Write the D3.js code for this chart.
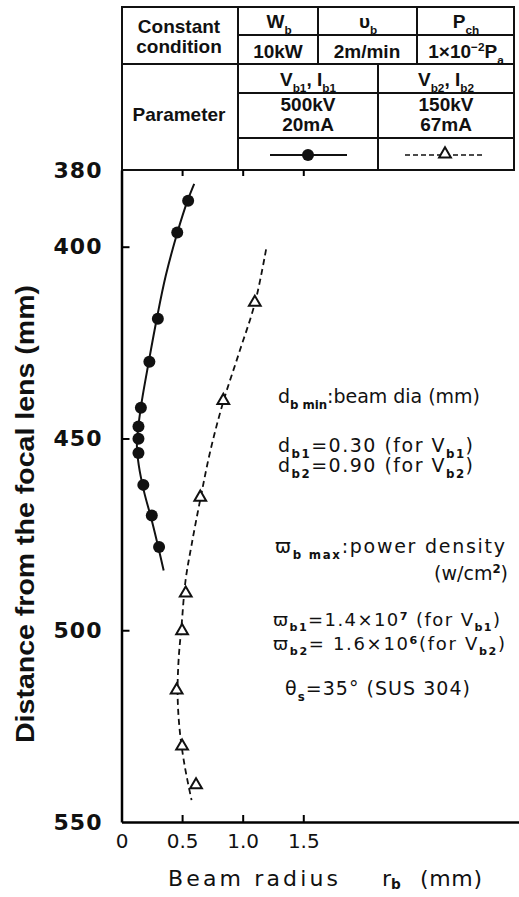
<!DOCTYPE html>
<html>
<head>
<meta charset="utf-8">
<script src="https://cdn.jsdelivr.net/npm/d3@7"></script>
<style>
  body { margin: 0; background: #fff; }
  svg text { fill: #111; }
</style>
</head>
<body>
<div id="chart"></div>
<script>
// measured points (beam radius mm, distance mm)
var r1 = [0.55, 0.46, 0.30, 0.23, 0.16, 0.14, 0.14, 0.14, 0.18, 0.25, 0.31];
var d1 = [388.0, 396.3, 418.8, 430.0, 442.0, 446.9, 450.1, 453.8, 462.1, 470.1, 478.3];
var r2 = [1.10, 0.84, 0.65, 0.53, 0.50, 0.455, 0.50, 0.615];
var d2 = [414.8, 440.4, 465.6, 490.6, 500.4, 515.9, 530.5, 540.6];
// hand drawn fitting curves
var fit1R = [0.60, 0.545, 0.463, 0.365, 0.291, 0.225, 0.168, 0.135, 0.127, 0.143, 0.184, 0.25, 0.307, 0.348];
var fit1D = [383.6, 388.0, 396.1, 407.6, 418.8, 430.0, 440.2, 448.0, 451.9, 457.1, 463.6, 471.4, 478.8, 484.4];
var fit2R = [1.193, 1.102, 0.971, 0.84, 0.734, 0.652, 0.578, 0.529, 0.496, 0.471, 0.463, 0.48, 0.52, 0.578];
var fit2D = [400.7, 414.6, 427.6, 440.4, 453.1, 465.6, 477.8, 486.9, 498.6, 507.8, 516.9, 526.0, 535.1, 544.3];
var xTicks = [0, 0.5, 1.0, 1.5];
var xTickLabels = ["0", "0.5", "1.0", "1.5"];
var yTicks = [380, 400, 450, 500, 550];

var W = 519, H = 897;
var svg = d3.select("#chart").append("svg").attr("width", W).attr("height", H);

var x = d3.scaleLinear().domain([0, 3.28]).range([121.5, 519]);
var y = d3.scaleLinear().domain([380, 550]).range([170, 822]);
var font = "'DejaVu Sans', sans-serif";

// text with _{sub} and ^{sup} markup
function rich(sel, str, size, subShift) {
    var re = /([_^])\{([^}]*)\}|([^_^]+)/g, m, shift = 0;
    while ((m = re.exec(str)) !== null) {
        if (m[3]) {
            sel.append("tspan").attr("dy", -shift).text(m[3]);
            shift = 0;
        } else {
            var dy = m[1] == "_" ? size * (subShift || 0.3) : -size * 0.35;
            sel.append("tspan").attr("dy", dy - shift)
                .style("font-size", (size * 0.62) + "px").style("font-weight", "bold").text(m[2]);
            shift = dy;
        }
    }
    return sel;
}
function label(str, px, py, size, anchor, subShift) {
    var t = svg.append("text").attr("x", px).attr("y", py)
        .style("font-family", font).style("font-size", size + "px")
        .attr("text-anchor", anchor || "start");
    return rich(t, str, size, subShift);
}

// ---- table ----
var tb = svg.append("g").attr("stroke", "#111").attr("stroke-width", 2).attr("fill", "none");
tb.append("rect").attr("x", 122).attr("y", 7).attr("width", 392).attr("height", 163);
[[238, 7, 238, 170], [318, 7, 318, 64], [417, 7, 417, 64], [378, 64, 378, 170],
 [238, 35, 514, 35], [122, 64, 514, 64], [238, 93, 514, 93], [238, 138, 514, 138]]
.forEach(function(l) {
    tb.append("line").attr("x1", l[0]).attr("y1", l[1]).attr("x2", l[2]).attr("y2", l[3]);
});

var tf = "'Liberation Sans', Arial, sans-serif";
function cell(str, px, py) {
    var t = svg.append("text").attr("x", px).attr("y", py).attr("text-anchor", "middle")
        .style("font-family", tf).style("font-size", "19px").style("font-weight", "bold");
    return rich(t, str, 19);
}
cell("Constant", 179, 33);
cell("condition", 179, 53);
cell("Parameter", 179, 121);
cell("W_{b}", 279, 28);
cell("υ_{b}", 368, 28);
cell("P_{ch}", 466, 28);
cell("10kW", 278, 58);
cell("2m/min", 367, 58);
cell("1×10^{−2}P_{a}", 466, 58);
cell("V_{b1}, I_{b1}", 308, 86);
cell("500kV", 308, 111);
cell("20mA", 308, 131);
cell("V_{b2}, I_{b2}", 446, 86);
cell("150kV", 446, 111);
cell("67mA", 446, 131);

// legend samples
svg.append("line").attr("x1", 270).attr("x2", 347).attr("y1", 155).attr("y2", 155)
    .attr("stroke", "#111").attr("stroke-width", 2);
svg.append("circle").attr("cx", 308).attr("cy", 155).attr("r", 6).attr("fill", "#111");
svg.append("line").attr("x1", 405).attr("x2", 485).attr("y1", 155).attr("y2", 155)
    .attr("stroke", "#111").attr("stroke-width", 1.6).attr("stroke-dasharray", "5,3");
var tri = d3.symbol().type(d3.symbolTriangle).size(60);
svg.append("path").attr("d", tri()).attr("transform", "translate(445,154)")
    .attr("fill", "#fff").attr("stroke", "#111").attr("stroke-width", 2);

// ---- axes ----
var xAxis = d3.axisBottom(x).tickValues(xTicks).tickFormat(function(d, i) { return xTickLabels[i]; })
    .tickSizeInner(-7).tickSizeOuter(0).tickPadding(12);
var gx = svg.append("g").attr("transform", "translate(0," + y(550) + ")").call(xAxis);
gx.select(".domain").attr("stroke-width", 2.5);
gx.selectAll(".tick line").attr("stroke-width", 2);
gx.selectAll(".tick text").style("font-family", font).style("font-size", "20px").attr("fill", "#111");

var xTop = d3.axisTop(x).tickValues(xTicks.slice(1)).tickFormat("").tickSizeInner(-6).tickSizeOuter(0);
var gt = svg.append("g").attr("transform", "translate(0," + y(380) + ")").call(xTop);
gt.select(".domain").remove();
gt.selectAll(".tick line").attr("stroke-width", 2);

var yAxis = d3.axisLeft(y).tickValues(yTicks).tickSizeInner(-8).tickSizeOuter(0).tickPadding(20);
var gy = svg.append("g").attr("transform", "translate(" + x(0) + ",0)").call(yAxis);
gy.select(".domain").attr("stroke-width", 2.5);
gy.selectAll(".tick line").attr("stroke-width", 2)
    .filter(function(d) { return d == 380 || d == 550; }).remove();
gy.selectAll(".tick text").style("font-family", font).style("font-size", "22px")
    .style("font-weight", "bold")
    .attr("fill", "#111").attr("textLength", 48).attr("lengthAdjust", "spacing");

// axis titles
label("Beam radius", 168, 886, 22).attr("textLength", 170).attr("lengthAdjust", "spacing");
label("r_{b}", 382, 886, 22, "start", 0.15);
label("(mm)", 420, 886, 22).attr("textLength", 62).attr("lengthAdjust", "spacing");

svg.append("text").attr("transform", "translate(34,514) rotate(-90)")
    .attr("text-anchor", "middle")
    .style("font-family", tf).style("font-size", "26px").style("font-weight", "bold")
    .attr("textLength", 458).attr("lengthAdjust", "spacingAndGlyphs")
    .text("Distance from the focal lens   (mm)");

// ---- curves ----
var line = d3.line().x(function(d) { return x(d[0]); }).y(function(d) { return y(d[1]); })
    .curve(d3.curveCatmullRom);
svg.append("path").datum(d3.zip(fit1R, fit1D)).attr("d", line)
    .attr("fill", "none").attr("stroke", "#111").attr("stroke-width", 2);
svg.append("path").datum(d3.zip(fit2R, fit2D)).attr("d", line)
    .attr("fill", "none").attr("stroke", "#111").attr("stroke-width", 1.8)
    .attr("stroke-dasharray", "6,4");

svg.selectAll(".p1").data(d3.zip(r1, d1)).enter().append("circle")
    .attr("cx", function(d) { return x(d[0]); }).attr("cy", function(d) { return y(d[1]); })
    .attr("r", 6).attr("fill", "#111");
svg.selectAll(".p2").data(d3.zip(r2, d2)).enter().append("path")
    .attr("d", tri())
    .attr("transform", function(d) { return "translate(" + x(d[0]) + "," + (y(d[1]) - 1) + ")"; })
    .attr("fill", "#fff").attr("stroke", "#111").attr("stroke-width", 2);

// ---- notes ----
label("d_{b min}:beam dia (mm)", 278, 403, 19).attr("textLength", 202).attr("lengthAdjust", "spacing");
label("d_{b1}=0.30 (for V_{b1})", 278, 452, 19).attr("textLength", 195).attr("lengthAdjust", "spacing");
label("d_{b2}=0.90 (for V_{b2})", 278, 472, 19).attr("textLength", 195).attr("lengthAdjust", "spacing");
label("ϖ_{b max}:power density", 275, 553, 19).attr("textLength", 230).attr("lengthAdjust", "spacing");
label("(w/cm^{2})", 508, 580, 19, "end");
label("ϖ_{b1}=1.4×10^{7} (for V_{b1})", 273, 626, 18, "start", 0.25).attr("textLength", 227).attr("lengthAdjust", "spacing");
label("ϖ_{b2}= 1.6×10^{6}(for V_{b2})", 273, 650, 18, "start", 0.25).attr("textLength", 232).attr("lengthAdjust", "spacing");
label("θ_{s}=35°    (SUS 304)", 285, 695, 19).attr("textLength", 185).attr("lengthAdjust", "spacing");
</script>
</body>
</html>
